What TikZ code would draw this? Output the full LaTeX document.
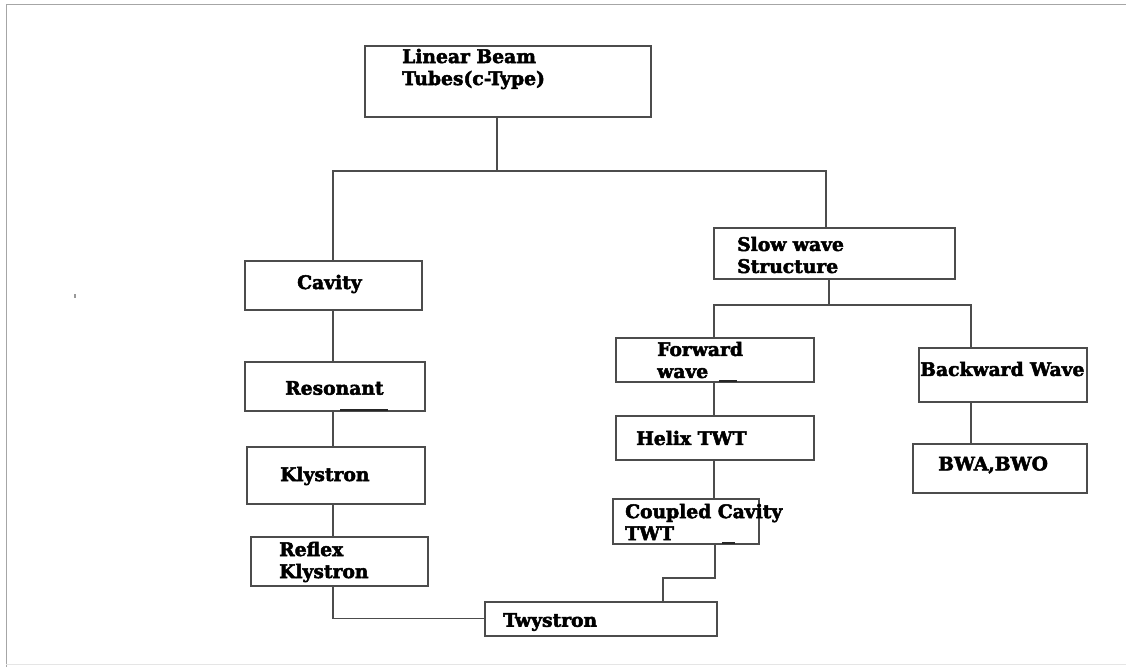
\documentclass[tikz,border=0pt]{standalone}
\usepackage{fontspec}
\setmainfont{DejaVu Serif}[BoldFeatures={FakeBold=2.6}]
\begin{document}
\begin{tikzpicture}[x=1pt,y=-1pt,
  box/.style={draw=black!70, line width=1.5pt, anchor=north west, inner sep=0pt},
  lbl/.style={anchor=west, inner sep=0pt, align=left, font=\fontsize{18.7}{22}\selectfont\bfseries},
  wire/.style={draw=black!70, line width=1.3pt},
  blot/.style={draw=black!85, line width=2pt}]
\useasboundingbox (0,0) rectangle (1126,667);
% page frame
\draw[black!35, line width=1pt] (6,667) -- (6,4) -- (1126,4);
\draw[black!10, line width=0.8pt] (6,664) -- (1126,664);
\fill[black!40] (74,294) rectangle (76,298);
% boxes
\node[box, minimum width=286pt, minimum height=71pt] (lb)  at (364,45)  {};
\node[box, minimum width=177pt, minimum height=49pt] (cav) at (244,260) {};
\node[box, minimum width=180pt, minimum height=49pt] (res) at (244,361) {};
\node[box, minimum width=178pt, minimum height=57pt] (kly) at (246,446) {};
\node[box, minimum width=177pt, minimum height=49pt] (ref) at (250,536) {};
\node[box, minimum width=232pt, minimum height=34pt] (twy) at (484,601) {};
\node[box, minimum width=146pt, minimum height=45pt] (ccv) at (612,498) {};
\node[box, minimum width=198pt, minimum height=44pt] (hel) at (615,415) {};
\node[box, minimum width=198pt, minimum height=44pt] (fwd) at (615,337) {};
\node[box, minimum width=241pt, minimum height=51pt] (slw) at (713,227) {};
\node[box, minimum width=168pt, minimum height=54pt] (bwd) at (918,347) {};
\node[box, minimum width=174pt, minimum height=49pt] (bwa) at (912,443) {};
% labels
\node[lbl] (tlb)  at (402,69)  {Linear Beam\\Tubes(c-Type)};
\node[lbl] (tcav) at (297,284) {Cavity};
\node[lbl] (tres) at (285,388) {Resonant};
\node[lbl] (tkly) at (280,476) {Klystron};
\node[lbl] (tref) at (279,562) {Reflex\\Klystron};
\node[lbl] (ttwy) at (503,622) {Twystron};
\node[lbl] (tccv) at (625,522) {Coupled Cavity\\TWT};
\node[lbl] (thel) at (636,438) {Helix TWT};
\node[lbl] (tfwd) at (657,360) {Forward\\wave};
\node[lbl] (tslw) at (737,255) {Slow wave\\Structure};
\node[lbl] (tbwd) at (920,369) {Backward Wave};
\node[lbl] (tbwa) at (938,465) {BWA,BWO};
% junction coordinates
\coordinate (j1) at (497,171);
\coordinate (j2) at (826,171);
\coordinate (lx) at (333,0);
\coordinate (j3) at (829,305);
\coordinate (ja) at (714,305);
\coordinate (jb) at (971,305);
\coordinate (k1) at (715,578);
\coordinate (k2) at (663,578);
% connectors
\draw[wire] (j1 |- lb.south) -- (j1);
\draw[wire] (lx |- cav.north) |- (j2) -- (j2 |- slw.north);
\draw[wire] (lx |- cav.south) -- (lx |- res.north);
\draw[wire] (lx |- res.south) -- (lx |- kly.north);
\draw[wire] (lx |- kly.south) -- (lx |- ref.north);
\draw[wire] (lx |- ref.south) |- (twy.west);
\draw[wire] (j3 |- slw.south) -- (j3);
\draw[wire] (ja |- fwd.north) -- (ja) -- (jb) -- (jb |- bwd.north);
\draw[wire] (jb |- bwd.south) -- (jb |- bwa.north);
\draw[wire] (ja |- fwd.south) -- (ja |- hel.north);
\draw[wire] (ja |- hel.south) -- (ja |- ccv.north);
\draw[wire] (k1 |- ccv.south) -- (k1) -- (k2) -- (k2 |- twy.north);
% small marks on box edges
\draw[blot] (340,410) -- (388,410);
\draw[blot] (719,381) -- (737,381);
\draw[blot] (722,543) -- (735,543);
\end{tikzpicture}
\end{document}
